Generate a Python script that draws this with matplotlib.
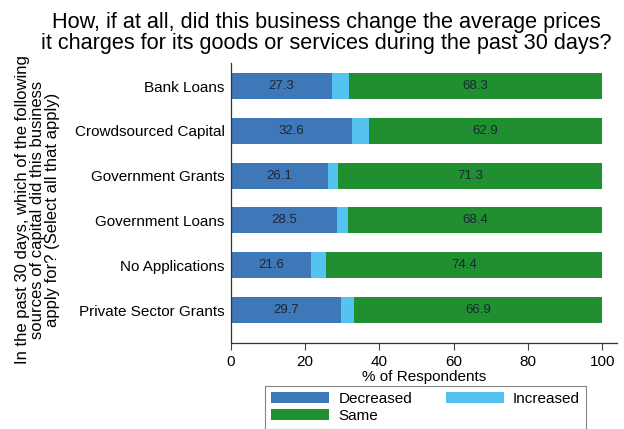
import matplotlib.pyplot as plt
import numpy as np

plt.rcParams['font.family'] = ['Liberation Sans', 'DejaVu Sans']

# datos
fuentes = ['Bank Loans', 'Crowdsourced Capital', 'Government Grants',
           'Government Loans', 'No Applications', 'Private Sector Grants']
disminuyo = [27.3, 32.6, 26.1, 28.5, 21.6, 29.7]
aumento = [4.4, 4.5, 2.6, 3.1, 4.0, 3.4]
igual = [68.3, 62.9, 71.3, 68.4, 74.4, 66.9]

col_dis = '#3f78b8'
col_aum = '#55c3ef'
col_igu = '#1f8f2f'

fig = plt.figure(figsize=(6.24, 4.29), dpi=100)
ax = fig.add_axes([231 / 624, 1 - 343 / 429, 386 / 624, 280 / 429])

y = np.arange(len(fuentes))
alto = 0.58
izq_aum = np.array(disminuyo)
izq_igu = izq_aum + np.array(aumento)

b1 = ax.barh(y, disminuyo, height=alto, color=col_dis, label='Decreased')
b2 = ax.barh(y, aumento, left=izq_aum, height=alto, color=col_aum, label='Increased')
b3 = ax.barh(y, igual, left=izq_igu, height=alto, color=col_igu, label='Same')

ax.bar_label(b1, labels=[f'{v:.1f}' for v in disminuyo], label_type='center',
             fontsize=9.5, color='#1b2638')
ax.bar_label(b3, labels=[f'{v:.1f}' for v in igual], label_type='center',
             fontsize=9.5, color='#1b2638')

ax.set_xlim(0, 104)
ax.set_ylim(5 + 33 / 44.8, -23 / 44.8)
ax.set_yticks(y)
ax.set_yticklabels(fuentes, fontsize=11)
ax.set_xticks([0, 20, 40, 60, 80, 100])
ax.tick_params(axis='x', labelsize=11, length=5, color='#444444')
ax.tick_params(axis='y', length=0, pad=4.5)
for s in ['top', 'right']:
    ax.spines[s].set_visible(False)
for s in ['left', 'bottom']:
    ax.spines[s].set_color('#333333')
    ax.spines[s].set_linewidth(0.9)

ax.set_xlabel('% of Respondents', fontsize=11, labelpad=1)

fig.text(326 / 624, 1 - 12 / 429,
         'How, if at all, did this business change the average prices\n'
         'it charges for its goods or services during the past 30 days?',
         ha='center', va='top', fontsize=15.6, linespacing=0.97)

fig.text(38 / 624, 1 - 210 / 429,
         'In the past 30 days, which of the following\n'
         'sources of capital did this business\n'
         'apply for? (Select all that apply)',
         rotation=90, ha='center', va='center', fontsize=12, linespacing=1.0)

leg = fig.legend(handles=[b1, b3, b2], loc='upper left',
                 bbox_to_anchor=(265 / 624, 1 - 386 / 429), ncol=2,
                 fontsize=11, frameon=True, fancybox=False, edgecolor='#666666',
                 handlelength=3.8, handleheight=0.7, columnspacing=2.2,
                 borderaxespad=0, labelspacing=0.2, handletextpad=0.6,
                 borderpad=0.4)
leg.get_frame().set_linewidth(0.8)

fig.savefig('out.png', dpi=100)
